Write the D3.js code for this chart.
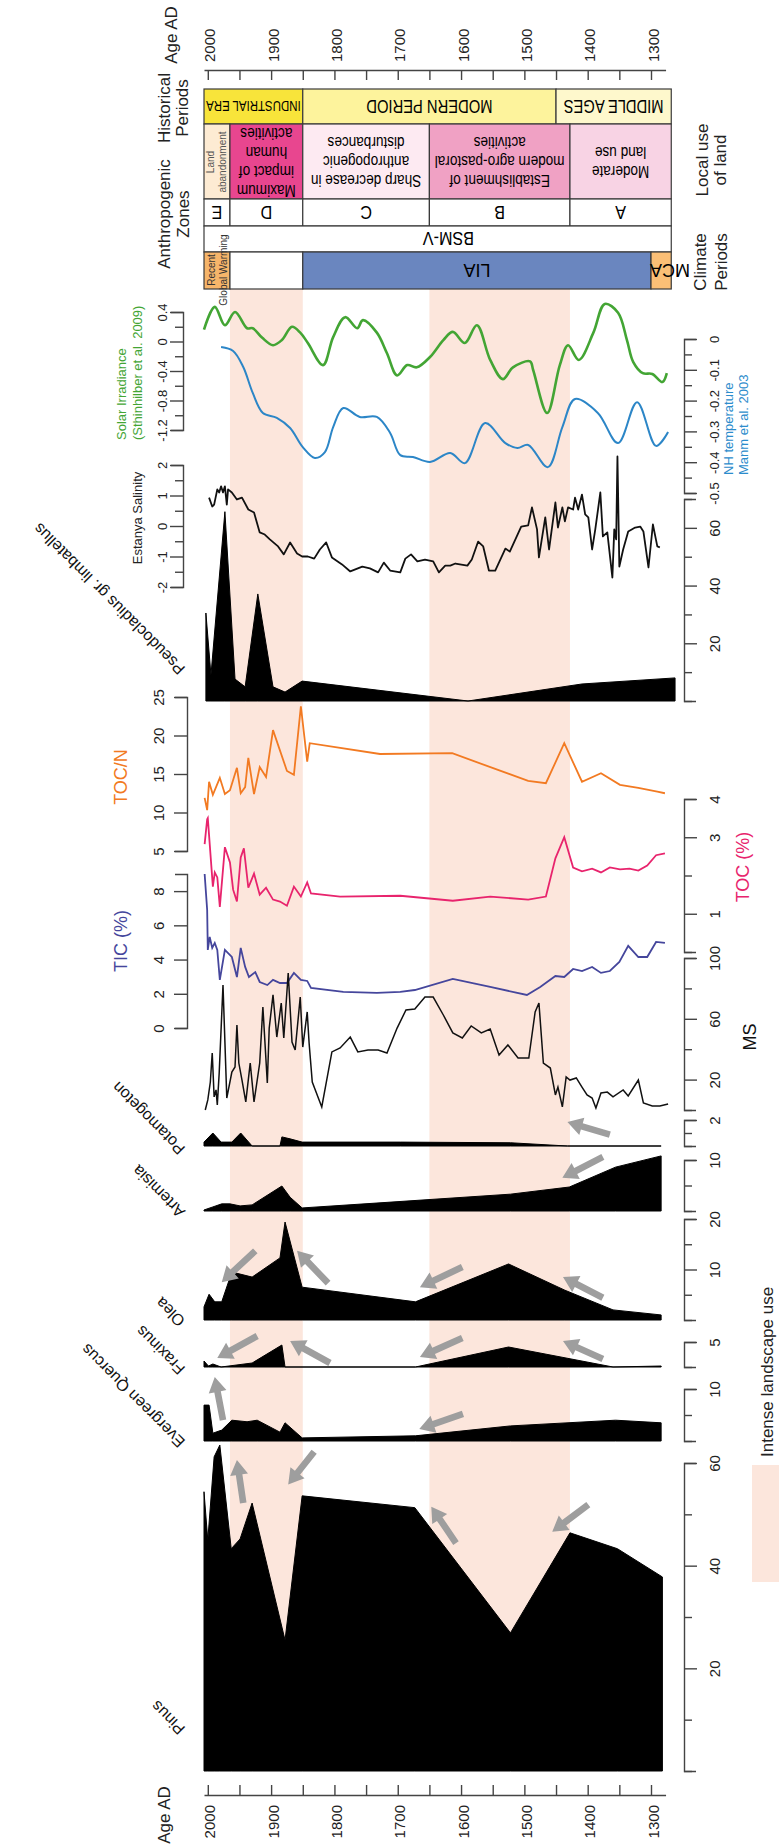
<!DOCTYPE html>
<html>
<head>
<meta charset="utf-8">
<script src="https://cdn.jsdelivr.net/npm/d3@7"></script>
<style>
  body { margin: 0; background: #fff; }
  svg { display: block; }
  text { font-family: "Liberation Sans", Arial, sans-serif; }
</style>
</head>
<body>
<div id="chart"></div>
<script>
// ---- data (age AD, value) ----
const historicalPeriods = [
    { name: 'INDUSTRIAL ERA', from: 2006, to: 1850 },
    { name: 'MODERN PERIOD', from: 1850, to: 1450 },
    { name: 'MIDDLE AGES', from: 1450, to: 1268 }
];
const localUse = [
    { zone: 'E', from: 2006, to: 1965, lines: ['Land', 'abandonment'] },
    { zone: 'D', from: 1965, to: 1850, lines: ['Maximum', 'impact of', 'human', 'activities'] },
    { zone: 'C', from: 1850, to: 1650, lines: ['Sharp decrease in', 'anthropogenic', 'disturbances'] },
    { zone: 'B', from: 1650, to: 1428, lines: ['Establishment of', 'modern agro-pastoral', 'activities'] },
    { zone: 'A', from: 1428, to: 1268, lines: ['Moderate', 'land use'] }
];
const climatePeriods = [
    { name: 'Recent Global Warming', from: 2006, to: 1965 },
    { name: '', from: 1965, to: 1850 },
    { name: 'LIA', from: 1850, to: 1300 },
    { name: 'MCA', from: 1300, to: 1268 }
];
const intenseUse = [[1965, 1850], [1650, 1428]];

const solarIrradiance = [[2006,0.16],[1989,0.47],[1973,0.22],[1957,0.40],[1938,0.18],[1929,0.18],[1914,0.05],[1897,-0.05],[1883,0.02],[1867,0.20],[1854,0.12],[1842,-0.02],[1818,-0.32],[1802,0.06],[1783,0.33],[1764,0.18],[1755,0.29],[1733,0.12],[1717,-0.16],[1701,-0.46],[1685,-0.32],[1670,-0.35],[1649,-0.21],[1628,0.02],[1613,0.13],[1594,-0.02],[1575,0.22],[1554,-0.25],[1534,-0.51],[1518,-0.35],[1491,-0.27],[1486,-0.39],[1464,-0.97],[1444,-0.32],[1431,-0.05],[1414,-0.25],[1391,0.12],[1373,0.51],[1352,0.39],[1338,0.02],[1328,-0.28],[1313,-0.43],[1298,-0.44],[1282,-0.55],[1275,-0.43]];
const nhTemperature = [[1979,-0.026],[1960,-0.039],[1944,-0.091],[1929,-0.175],[1913,-0.24],[1891,-0.256],[1870,-0.289],[1850,-0.351],[1831,-0.386],[1815,-0.367],[1802,-0.286],[1786,-0.224],[1760,-0.253],[1733,-0.253],[1712,-0.305],[1696,-0.377],[1676,-0.383],[1649,-0.399],[1617,-0.37],[1594,-0.403],[1562,-0.273],[1530,-0.338],[1511,-0.354],[1494,-0.344],[1463,-0.416],[1440,-0.286],[1420,-0.195],[1384,-0.24],[1352,-0.338],[1322,-0.205],[1292,-0.347],[1273,-0.302]];
const salinity = [[1998,0.93],[1993,0.64],[1990,0.7],[1985,1.2],[1982,1.1],[1979,1.3],[1976,1.1],[1973,1.3],[1970,0.7],[1968,1.2],[1962,1.1],[1954,0.87],[1946,0.93],[1936,0.54],[1927,0.44],[1918,-0.21],[1910,-0.28],[1902,-0.44],[1889,-0.67],[1880,-0.93],[1870,-0.54],[1859,-0.9],[1851,-1.0],[1842,-1.0],[1832,-1.07],[1823,-0.77],[1813,-0.54],[1804,-1.03],[1788,-1.26],[1775,-1.49],[1756,-1.33],[1744,-1.39],[1731,-1.52],[1722,-1.2],[1712,-1.46],[1696,-1.52],[1688,-1.07],[1679,-0.93],[1669,-1.16],[1657,-1.1],[1644,-1.16],[1635,-1.52],[1625,-1.3],[1617,-1.3],[1609,-1.23],[1590,-1.3],[1583,-1.1],[1573,-0.51],[1565,-0.67],[1556,-1.46],[1546,-1.46],[1530,-0.74],[1523,-0.84],[1505,-0.02],[1494,0.02],[1488,0.61],[1480,-0.11],[1477,-1.03],[1467,0.28],[1461,-0.77],[1451,0.77],[1447,-0.05],[1440,0.61],[1436,0.15],[1431,0.61],[1423,0.54],[1420,0.93],[1415,0.54],[1409,1.03],[1404,0.38],[1399,0.28],[1393,-0.77],[1388,-0.11],[1380,1.1],[1376,-0.34],[1369,-0.21],[1361,-1.69],[1358,-0.11],[1355,-0.44],[1353,2.28],[1350,-1.33],[1344,-0.77],[1336,-0.18],[1325,-0.05],[1317,-0.02],[1312,-0.18],[1304,-1.36],[1297,0.05],[1290,-0.67],[1286,-0.7]];
const pseudocladius = [[2003,0],[2003,30.5],[1995,9.0],[1973,65.6],[1957,7.6],[1941,4.9],[1921,37.1],[1897,4.9],[1878,3.1],[1851,6.9],[1589,0],[1409,5.9],[1262,8.0],[1262,0]];
const tocN = [[2005,11.9],[2001,10.3],[1998,14.0],[1992,12.3],[1981,14.5],[1973,12.4],[1965,12.9],[1954,15.8],[1948,12.5],[1941,13.3],[1936,17.1],[1927,12.4],[1918,15.9],[1908,14.6],[1897,20.7],[1875,15.4],[1864,14.9],[1853,23.8],[1843,16.6],[1839,19.0],[1728,17.6],[1614,17.7],[1494,14.1],[1466,13.8],[1437,19.0],[1409,14.0],[1379,15.1],[1349,13.6],[1320,13.2],[1290,12.7],[1278,12.5]];
const toc = [[2005,2.82],[2001,3.47],[2000,3.5],[1992,1.71],[1989,2.08],[1985,1.95],[1981,1.18],[1973,2.74],[1965,2.34],[1960,1.63],[1954,1.32],[1948,2.47],[1943,2.71],[1936,1.68],[1927,2.05],[1918,1.5],[1908,1.68],[1897,1.37],[1886,1.32],[1875,1.21],[1864,1.71],[1853,1.45],[1843,1.82],[1837,1.53],[1791,1.45],[1696,1.47],[1613,1.34],[1554,1.45],[1494,1.37],[1466,1.45],[1451,2.45],[1437,3.0],[1423,2.21],[1409,2.11],[1393,2.18],[1379,2.08],[1365,2.21],[1349,2.16],[1334,2.18],[1320,2.13],[1306,2.26],[1292,2.53],[1278,2.58]];
const tic = [[2005,9.0],[2001,6.9],[2000,4.56],[1997,5.32],[1993,4.68],[1989,4.97],[1985,4.56],[1981,2.81],[1973,4.56],[1962,4.15],[1954,2.98],[1948,4.68],[1941,3.57],[1935,2.98],[1925,3.27],[1918,2.69],[1906,2.51],[1897,2.81],[1886,2.63],[1875,2.63],[1864,3.22],[1853,2.81],[1843,2.75],[1837,2.34],[1786,2.11],[1733,2.05],[1696,2.11],[1673,2.22],[1613,2.87],[1554,2.4],[1496,1.93],[1475,2.4],[1451,3.04],[1437,2.98],[1423,3.45],[1409,3.33],[1393,3.57],[1379,3.22],[1365,3.33],[1350,3.86],[1336,4.8],[1320,4.15],[1306,4.15],[1292,5.03],[1278,4.97]];
const magneticSusceptibility = [[2004,0],[2000,6.6],[1996,18.4],[1993,37.5],[1990,8.6],[1987,13.2],[1985,3.3],[1982,24.3],[1976,82.2],[1970,7.9],[1962,25.0],[1957,28.3],[1954,55.9],[1951,30.9],[1946,19.7],[1940,5.3],[1933,30.9],[1927,5.3],[1918,30.9],[1913,67.8],[1906,17.8],[1903,53.9],[1897,75.7],[1891,48.0],[1884,70.4],[1880,47.4],[1873,90.1],[1867,44.7],[1862,39.5],[1854,74.3],[1850,41.4],[1843,64.5],[1840,44.1],[1835,18.4],[1820,2.0],[1804,38.2],[1791,40.8],[1775,48.0],[1763,38.2],[1747,39.5],[1731,39.5],[1717,37.5],[1701,53.9],[1687,65.8],[1673,66.4],[1657,74.3],[1644,74.3],[1628,62.5],[1613,50.7],[1598,47.4],[1584,55.3],[1568,50.7],[1554,53.3],[1540,36.2],[1526,42.8],[1510,34.2],[1493,34.2],[1483,64.5],[1477,70.4],[1470,30.9],[1459,27.6],[1451,9.9],[1447,15.1],[1440,2.0],[1434,21.7],[1428,19.7],[1418,21.1],[1409,15.1],[1401,9.9],[1393,7.9],[1387,1.3],[1379,11.2],[1369,11.8],[1360,8.6],[1344,13.2],[1336,9.2],[1320,19.7],[1312,4.6],[1298,2.6],[1286,2.6],[1273,3.9]];
const potamogeton = [[2006,0],[2006,0.3],[1992,1.0],[1979,0.3],[1962,0.3],[1948,1.0],[1930,0],[1886,0],[1883,0.7],[1870,0.55],[1851,0.3],[1696,0.3],[1522,0.25],[1432,0],[1284,0]];
const artemisia = [[2006,0],[2006,0.2],[1992,0.8],[1978,1.4],[1965,1.4],[1949,1.0],[1930,1.2],[1883,4.9],[1870,2.7],[1851,0.6],[1728,1.6],[1522,3.3],[1429,4.7],[1356,8.6],[1284,10.8],[1284,0]];
const olea = [[2006,0],[2006,2.6],[1998,5.1],[1989,3.6],[1978,3.6],[1962,9.5],[1930,8.5],[1886,12.3],[1878,19.4],[1851,6.5],[1672,3.6],[1525,11.1],[1436,5.9],[1360,2.0],[1284,1.0],[1284,0]];
const fraxinus = [[2006,0],[2006,1.2],[1999,0.2],[1992,0.6],[1979,0],[1930,0.8],[1883,4.4],[1878,0],[1672,0],[1525,4.0],[1360,0],[1284,0.2],[1284,0]];
const evergreenQuercus = [[2006,0],[2006,6.9],[1998,6.9],[1992,1.5],[1978,2.1],[1962,4.0],[1938,3.7],[1922,4.0],[1886,1.7],[1878,3.5],[1851,0.6],[1672,1.0],[1522,2.9],[1356,4.0],[1284,3.5],[1284,0]];
const pinus = [[2006,0],[2006,54.4],[2000,45.0],[1990,61.2],[1981,63.5],[1963,43.3],[1949,45.2],[1930,52.2],[1878,25.5],[1851,53.6],[1673,51.3],[1522,26.9],[1428,46.4],[1353,43.3],[1282,37.8],[1282,0]];

// arrows: panel, tail [age, value], head [age, value]
const arrows = [
    ['pota', [1365, 0.88], [1432, 1.84]],
    ['arte', [1376, 10.6], [1440, 6.5]],
    ['olea', [1376, 4.4], [1439, 8.5]],
    ['olea', [1598, 10.5], [1665, 6.5]],
    ['olea', [1925, 13.7], [1978, 7.5]],
    ['olea', [1810, 7.3], [1859, 13.7]],
    ['frax', [1922, 6.2], [1985, 1.8]],
    ['frax', [1807, 0.8], [1870, 5.2]],
    ['frax', [1598, 5.8], [1665, 2.0]],
    ['frax', [1376, 1.6], [1439, 5.2]],
    ['eq', [1976, 4.0], [1989, 12.3]],
    ['eq', [1597, 5.2], [1666, 2.3]],
    ['pinus', [1944, 52.2], [1954, 60.6]],
    ['pinus', [1832, 62.2], [1873, 55.8]],
    ['pinus', [1608, 44.4], [1647, 51.5]],
    ['pinus', [1399, 51.9], [1456, 46.6]]
];

// tick values
const ageTicks = [2000,1950,1900,1850,1800,1750,1700,1650,1600,1550,1500,1450,1400,1350,1300];
const ageLabels = [2000,1900,1800,1700,1600,1500,1400,1300];

// ---- layout ----
const W = 779, H = 1847;
const SHADE = '#fce6dc';
const x = d3.scaleLinear().domain([2006, 1300]).range([204, 651]);

// pixel extent [bottom, top] and value domain of every panel
const panels = {
    solar:    { px: [430, 312],  dom: [-1.2, 0.4] },
    nh:       { px: [493, 339],  dom: [-0.5, 0] },
    salinity: { px: [587, 465],  dom: [-2, 2] },
    pseudo:   { px: [701, 499],  dom: [0, 70] },
    tocn:     { px: [851, 697],  dom: [5, 25] },
    toc:      { px: [952, 799],  dom: [0, 4] },
    tic:      { px: [1028, 874], dom: [0, 9] },
    ms:       { px: [1110, 958], dom: [0, 100] },
    pota:     { px: [1146, 1120], dom: [0, 2] },
    arte:     { px: [1211, 1160], dom: [0, 10] },
    olea:     { px: [1320, 1219], dom: [0, 20] },
    frax:     { px: [1367, 1342], dom: [0, 5] },
    eq:       { px: [1441, 1389], dom: [0, 10] },
    pinus:    { px: [1771, 1463], dom: [0, 60] }
};
const y = {};
Object.entries(panels).forEach(([k, p]) => {
    y[k] = d3.scaleLinear().domain(p.dom).range(p.px);
});

const svg = d3.select('#chart').append('svg')
    .attr('width', W).attr('height', H)
    .attr('viewBox', `0 0 ${W} ${H}`);

// shading bands
svg.append('g').selectAll('rect').data(intenseUse).join('rect')
    .attr('x', d => x(d[0])).attr('width', d => x(d[1]) - x(d[0]))
    .attr('y', 289).attr('height', 1771 - 289)
    .attr('fill', SHADE);

// ---- header boxes ----
const BOX = '#3a3a3a';
const header = svg.append('g');
const histColors = ['#f8e43a', '#fdf39c', '#fef8cc'];
header.selectAll('rect.hist').data(historicalPeriods).join('rect')
    .attr('x', d => x(d.from)).attr('width', d => x(d.to) - x(d.from))
    .attr('y', 89).attr('height', 35)
    .attr('fill', (d, i) => histColors[i]).attr('stroke', BOX).attr('stroke-width', 1.2);
const histFont = [14, 18, 18];
header.selectAll('text.hist').data(historicalPeriods).join('text')
    .attr('transform', d => `translate(${(x(d.from) + x(d.to)) / 2},106.5) rotate(180) scale(0.82,1)`)
    .attr('text-anchor', 'middle').attr('dy', '0.36em')
    .attr('font-size', (d, i) => histFont[i])
    .text(d => d.name);

const localColors = { E: '#fdebd3', D: '#e8468f', C: '#fdeaf2', B: '#f0a1c4', A: '#f8d3e4' };
header.selectAll('rect.local').data(localUse).join('rect')
    .attr('x', d => x(d.from)).attr('width', d => x(d.to) - x(d.from))
    .attr('y', 124).attr('height', 75)
    .attr('fill', d => localColors[d.zone]).attr('stroke', BOX).attr('stroke-width', 1.2);
localUse.forEach(d => {
    const cx = (x(d.from) + x(d.to)) / 2;
    if (d.zone === 'E') {
        const t = header.append('text')
            .attr('transform', `translate(${cx - 6},162) rotate(-90)`)
            .attr('text-anchor', 'middle').attr('font-size', 10).attr('fill', '#555');
        d.lines.forEach((l, i) => t.append('tspan').attr('x', 0).attr('y', i * 12).attr('dy', '0.35em').text(l));
        return;
    }
    const n = d.lines.length;
    const t = header.append('text')
        .attr('transform', `translate(${cx},162) rotate(180) scale(0.85,1)`)
        .attr('text-anchor', 'middle').attr('font-size', 16);
    d.lines.forEach((l, i) => t.append('tspan').attr('x', 0)
        .attr('y', (i - (n - 1) / 2) * 19).attr('dy', '0.35em').text(l));
});

// zone letters
header.selectAll('rect.zone').data(localUse).join('rect')
    .attr('x', d => x(d.from)).attr('width', d => x(d.to) - x(d.from))
    .attr('y', 199).attr('height', 27)
    .attr('fill', '#fff').attr('stroke', BOX).attr('stroke-width', 1.2);
header.selectAll('text.zone').data(localUse).join('text')
    .attr('transform', d => `translate(${(x(d.from) + x(d.to)) / 2},212.5) rotate(180) scale(0.85,1)`)
    .attr('text-anchor', 'middle').attr('dy', '0.36em').attr('font-size', 19)
    .text(d => d.zone);

// BSM-V row
header.append('rect').attr('x', x(2006)).attr('width', x(1268) - x(2006))
    .attr('y', 226).attr('height', 26).attr('fill', '#fff').attr('stroke', BOX).attr('stroke-width', 1.2);
header.append('text')
    .attr('transform', `translate(${x(1620)},239) rotate(180) scale(0.85,1)`)
    .attr('text-anchor', 'middle').attr('dy', '0.36em').attr('font-size', 19).text('BSM-V');

// climate row
const climColors = ['#f6b56a', '#ffffff', '#6a86bf', '#fbbf76'];
header.selectAll('rect.clim').data(climatePeriods).join('rect')
    .attr('x', d => x(d.from)).attr('width', d => x(d.to) - x(d.from))
    .attr('y', 252).attr('height', 37)
    .attr('fill', (d, i) => climColors[i]).attr('stroke', BOX).attr('stroke-width', 1.2);
header.append('text')
    .attr('transform', `translate(${(x(1850) + x(1300)) / 2},270.5) rotate(180)`)
    .attr('text-anchor', 'middle').attr('dy', '0.36em').attr('font-size', 18).text('LIA');
header.append('text')
    .attr('transform', `translate(670,270.5) rotate(180)`)
    .attr('text-anchor', 'middle').attr('dy', '0.36em').attr('font-size', 18).text('MCA');
{
    const t = header.append('text')
        .attr('transform', `translate(${x(2006) + 7},270) rotate(-90)`)
        .attr('text-anchor', 'middle').attr('font-size', 10).attr('fill', '#333');
    ['Recent', 'Global Warming'].forEach((l, i) => t.append('tspan').attr('x', 0).attr('y', i * 12).attr('dy', '0.35em').text(l));
}

// ---- data marks ----
const marks = svg.append('g');
const area = key => d3.area().x(d => x(d[0])).y0(y[key](0)).y1(d => y[key](d[1]));
const line = key => d3.line().x(d => x(d[0])).y(d => y[key](d[1]));

[['pseudo', pseudocladius], ['pota', potamogeton], ['arte', artemisia], ['olea', olea],
 ['frax', fraxinus], ['eq', evergreenQuercus], ['pinus', pinus]].forEach(([k, data]) => {
    marks.append('path').datum(data).attr('d', area(k))
        .attr('fill', '#000').attr('stroke', '#000').attr('stroke-width', 1);
});

marks.append('path').datum(solarIrradiance)
    .attr('d', line('solar').curve(d3.curveCatmullRom.alpha(0.5)))
    .attr('fill', 'none').attr('stroke', '#43a534').attr('stroke-width', 2.6);
marks.append('path').datum(nhTemperature)
    .attr('d', line('nh').curve(d3.curveCatmullRom.alpha(0.5)))
    .attr('fill', 'none').attr('stroke', '#2c86c7').attr('stroke-width', 2);
marks.append('path').datum(salinity).attr('d', line('salinity'))
    .attr('fill', 'none').attr('stroke', '#111').attr('stroke-width', 1.8).attr('stroke-linejoin', 'round');
marks.append('path').datum(tocN).attr('d', line('tocn'))
    .attr('fill', 'none').attr('stroke', '#f27a22').attr('stroke-width', 1.8);
marks.append('path').datum(toc).attr('d', line('toc'))
    .attr('fill', 'none').attr('stroke', '#e8246d').attr('stroke-width', 1.8);
marks.append('path').datum(tic).attr('d', line('tic'))
    .attr('fill', 'none').attr('stroke', '#45469c').attr('stroke-width', 1.8);
marks.append('path').datum(magneticSusceptibility).attr('d', line('ms'))
    .attr('fill', 'none').attr('stroke', '#111').attr('stroke-width', 1.5);

// ---- value axes ----
const AX = '#444';
const axisSpecs = [
    { key: 'solar', side: 'left', at: 183, ticks: [0.4,0.2,0,-0.2,-0.4,-0.6,-0.8,-1.0,-1.2], labels: [0.4,0,-0.4,-0.8,-1.2], off: -21, fs: 13 },
    { key: 'salinity', side: 'left', at: 183, ticks: [2,1.5,1,0.5,0,-0.5,-1,-1.5,-2], labels: [2,1,0,-1,-2], off: -21, fs: 13 },
    { key: 'tocn', side: 'left', at: 187, ticks: [25,20,15,10,5], labels: [25,20,15,10,5], off: -29, fs: 15 },
    { key: 'tic', side: 'left', at: 187, ticks: [8,6,4,2,0], labels: [8,6,4,2,0], off: -29, fs: 15 },
    { key: 'nh', side: 'right', at: 684, ticks: [0,-0.05,-0.1,-0.15,-0.2,-0.25,-0.3,-0.35,-0.4,-0.45,-0.5], labels: [0,-0.1,-0.2,-0.3,-0.4,-0.5], off: 30, fs: 13 },
    { key: 'pseudo', side: 'right', at: 684, ticks: [70,60,50,40,30,20,10,0], labels: [60,40,20], off: 30, fs: 15 },
    { key: 'toc', side: 'right', at: 684, ticks: [4,3,2,1,0], labels: [4,3,1], off: 30, fs: 15 },
    { key: 'ms', side: 'right', at: 684, ticks: [100,80,60,40,20,0], labels: [100,60,20], off: 30, fs: 15 },
    { key: 'pota', side: 'right', at: 684, ticks: [2,1,0], labels: [2], off: 30, fs: 15 },
    { key: 'arte', side: 'right', at: 684, ticks: [10,5,0], labels: [10], off: 30, fs: 15 },
    { key: 'olea', side: 'right', at: 684, ticks: [20,15,10,5,0], labels: [20,10], off: 30, fs: 15 },
    { key: 'frax', side: 'right', at: 684, ticks: [5,0], labels: [5], off: 30, fs: 15 },
    { key: 'eq', side: 'right', at: 684, ticks: [10,5,0], labels: [10], off: 30, fs: 15 },
    { key: 'pinus', side: 'right', at: 684, ticks: [60,50,40,30,20,10,0], labels: [60,40,20], off: 30, fs: 15 }
];
axisSpecs.forEach(s => {
    const ax = (s.side === 'left' ? d3.axisLeft(y[s.key]) : d3.axisRight(y[s.key]))
        .tickValues(s.ticks).tickSizeOuter(0).tickSize(12)
        .tickFormat(d => s.labels.includes(d) ? String(d) : '');
    const g = svg.append('g').attr('transform', `translate(${s.at},0)`).call(ax);
    const dir = s.side === 'left' ? -1 : 1;
    g.select('.domain').attr('stroke', AX).attr('stroke-width', 1.4);
    g.selectAll('.tick line').attr('stroke', AX).attr('stroke-width', 1.4)
        .attr('x2', d => dir * (s.labels.includes(d) ? 13 : 8));
    g.selectAll('.tick text')
        .attr('x', null).attr('dy', null)
        .attr('transform', `translate(${s.off},0) rotate(-90)`)
        .attr('text-anchor', 'middle').attr('dominant-baseline', 'central')
        .attr('font-size', s.fs).attr('fill', '#222')
        .attr('font-family', '"Liberation Sans", Arial, sans-serif');
});

// ---- age axes ----
const ageAxisScale = d3.scaleLinear().domain([2006, 1277]).range([x(2006), x(1277)]);
const topAxis = svg.append('g').attr('transform', 'translate(0,70)')
    .call(d3.axisBottom(ageAxisScale).tickValues(ageTicks).tickSize(10).tickSizeOuter(0).tickFormat(''));
const botAxis = svg.append('g').attr('transform', 'translate(0,1795)')
    .call(d3.axisTop(ageAxisScale).tickValues(ageTicks).tickSize(10).tickSizeOuter(0).tickFormat(''));
[topAxis, botAxis].forEach(g => {
    g.select('.domain').attr('stroke', AX).attr('stroke-width', 1.4);
    g.selectAll('.tick line').attr('stroke', AX).attr('stroke-width', 1.4);
});
svg.append('g').selectAll('text').data(ageLabels).join('text')
    .attr('transform', d => `translate(${x(d) + 2},62) rotate(-90)`)
    .attr('text-anchor', 'start').attr('dominant-baseline', 'central')
    .attr('font-size', 15).attr('fill', '#222').text(d => d);
svg.append('g').selectAll('text').data(ageLabels).join('text')
    .attr('transform', d => `translate(${x(d) + 2},1805) rotate(-90)`)
    .attr('text-anchor', 'end').attr('dominant-baseline', 'central')
    .attr('font-size', 15).attr('fill', '#222').text(d => d);

// ---- arrows ----
const arrowG = svg.append('g').attr('fill', '#9e9e9e');
arrows.forEach(([k, tail, head]) => {
    const tx = x(tail[0]), ty = y[k](tail[1]);
    const hx = x(head[0]), hy = y[k](head[1]);
    const len = Math.hypot(hx - tx, hy - ty);
    const ux = (hx - tx) / len, uy = (hy - ty) / len;
    const nx = -uy, ny = ux;
    const hl = 15, hw = 9, sw = 3.3;
    const bx = hx - ux * hl, by = hy - uy * hl;
    const pts = [
        [tx + nx * sw, ty + ny * sw], [bx + nx * sw, by + ny * sw], [bx + nx * hw, by + ny * hw],
        [hx, hy],
        [bx - nx * hw, by - ny * hw], [bx - nx * sw, by - ny * sw], [tx - nx * sw, ty - ny * sw]
    ];
    arrowG.append('path').attr('d', 'M' + pts.map(p => p.join(',')).join('L') + 'Z');
});

// ---- labels ----
function vText(px, py, lines, opts) {
    const t = svg.append('text')
        .attr('transform', `translate(${px},${py}) rotate(-90)`)
        .attr('text-anchor', opts.anchor || 'middle')
        .attr('font-size', opts.fs).attr('fill', opts.color || '#222');
    lines.forEach((l, i) => t.append('tspan').attr('x', 0).attr('y', i * (opts.lh || opts.fs * 1.15))
        .attr('dominant-baseline', 'central').text(l));
    return t;
}
vText(171, 35, ['Age AD'], { fs: 17 });
vText(164, 1815, ['Age AD'], { fs: 17 });
vText(164, 108, ['Historical', 'Periods'], { fs: 17, lh: 18 });
vText(164, 214, ['Anthropogenic', 'Zones'], { fs: 17, lh: 19 });
vText(702, 160, ['Local use', 'of land'], { fs: 17, lh: 18 });
vText(700, 262, ['Climate', 'Periods'], { fs: 17, lh: 21 });
vText(121, 440, ['Solar Irradiance', '(Sthinhilber et al. 2009)'], { fs: 13, lh: 16, anchor: 'start', color: '#43a534' });
vText(728, 475, ['NH temperature', 'Manm et al. 2003'], { fs: 13, lh: 15, anchor: 'start', color: '#2c8ccc' });
vText(137, 518, ['Estanya Salinity'], { fs: 13 });
vText(121, 777, ['TOC/N'], { fs: 18, color: '#f27a22' });
vText(121, 941, ['TIC (%)'], { fs: 18, color: '#45469c' });
vText(743, 867, ['TOC (%)'], { fs: 18, color: '#e8246d' });
vText(750, 1037, ['MS'], { fs: 18, color: '#111' });
vText(767, 1457, ['Intense landscape use'], { fs: 17, anchor: 'start' });

svg.append('rect').attr('x', 752).attr('y', 1465).attr('width', 27).attr('height', 117).attr('fill', SHADE);

const taxaLabels = [
    ['Pseudocladius gr. limbatellus', 186, 668],
    ['Potamogeton', 186, 1148],
    ['Artemisia', 186, 1211],
    ['Olea', 186, 1320],
    ['Fraxinus', 186, 1368],
    ['Evergreen Quercus', 186, 1441],
    ['Pinus', 186, 1728]
];
svg.append('g').selectAll('text').data(taxaLabels).join('text')
    .attr('transform', d => `translate(${d[1]},${d[2]}) rotate(225)`)
    .attr('text-anchor', 'start').attr('font-size', 16).attr('fill', '#111')
    .text(d => d[0]);
</script>
</body>
</html>
